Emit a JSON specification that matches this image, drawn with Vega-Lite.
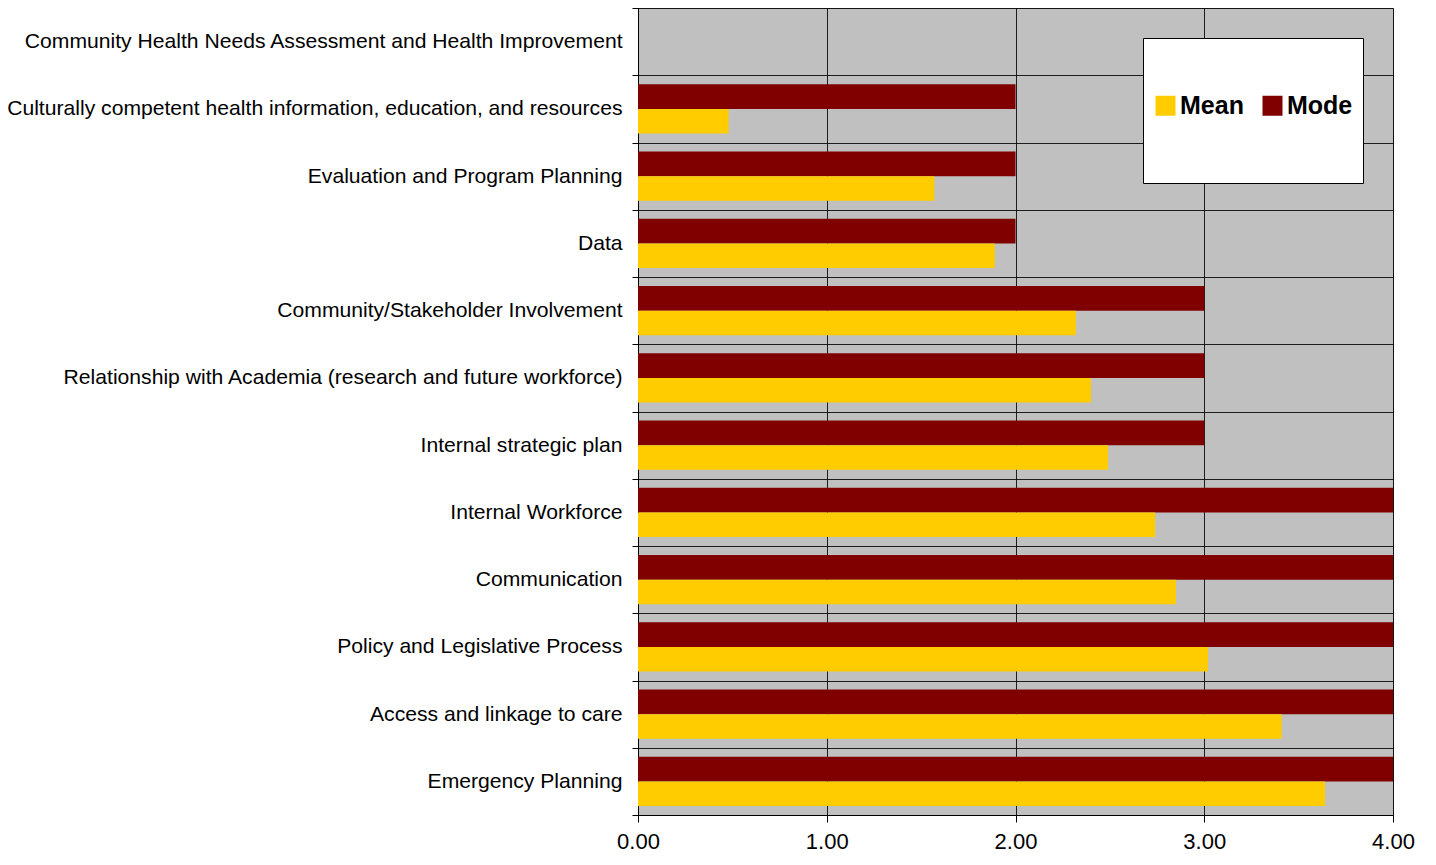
{
  "$schema": "https://vega.github.io/schema/vega-lite/v6.json",
  "autosize": {"type": "none"},
  "padding": {"left": 638, "top": 8, "right": 43, "bottom": 50},
  "width": 755,
  "height": 807,
  "background": "white",
  "config": {
    "font": "Liberation Sans",
    "view": {"fill": "#C0C0C0", "stroke": "#808080", "strokeWidth": 1}
  },
  "data": {
    "values": [
      {"category": "Community Health Needs Assessment and Health Improvement", "measure": "Mode", "value": 0},
      {"category": "Community Health Needs Assessment and Health Improvement", "measure": "Mean", "value": 0},
      {"category": "Culturally competent health information, education, and resources", "measure": "Mode", "value": 2},
      {"category": "Culturally competent health information, education, and resources", "measure": "Mean", "value": 0.48},
      {"category": "Evaluation and Program Planning", "measure": "Mode", "value": 2},
      {"category": "Evaluation and Program Planning", "measure": "Mean", "value": 1.57},
      {"category": "Data", "measure": "Mode", "value": 2},
      {"category": "Data", "measure": "Mean", "value": 1.89},
      {"category": "Community/Stakeholder Involvement", "measure": "Mode", "value": 3},
      {"category": "Community/Stakeholder Involvement", "measure": "Mean", "value": 2.32},
      {"category": "Relationship with Academia (research and future workforce)", "measure": "Mode", "value": 3},
      {"category": "Relationship with Academia (research and future workforce)", "measure": "Mean", "value": 2.4},
      {"category": "Internal strategic plan", "measure": "Mode", "value": 3},
      {"category": "Internal strategic plan", "measure": "Mean", "value": 2.49},
      {"category": "Internal Workforce", "measure": "Mode", "value": 4},
      {"category": "Internal Workforce", "measure": "Mean", "value": 2.74},
      {"category": "Communication", "measure": "Mode", "value": 4},
      {"category": "Communication", "measure": "Mean", "value": 2.85},
      {"category": "Policy and Legislative Process", "measure": "Mode", "value": 4},
      {"category": "Policy and Legislative Process", "measure": "Mean", "value": 3.02},
      {"category": "Access and linkage to care", "measure": "Mode", "value": 4},
      {"category": "Access and linkage to care", "measure": "Mean", "value": 3.41},
      {"category": "Emergency Planning", "measure": "Mode", "value": 4},
      {"category": "Emergency Planning", "measure": "Mean", "value": 3.64}
    ]
  },
  "mark": {"type": "bar", "strokeWidth": 0},
  "encoding": {
    "y": {
      "field": "category",
      "type": "nominal",
      "sort": null,
      "scale": {"paddingInner": 0, "paddingOuter": 0},
      "axis": {
        "title": null,
        "tickBand": "extent",
        "grid": true,
        "gridColor": "#000000",
        "gridWidth": 1,
        "gridOpacity": 0.85,
        "ticks": true,
        "tickColor": "#000000",
        "tickSize": 6,
        "domainColor": "#000000",
        "labelFont": "Liberation Sans",
        "labelFontSize": 21.13,
        "labelColor": "#000000",
        "labelPadding": 10,
        "labelLimit": 700
      }
    },
    "yOffset": {
      "field": "measure",
      "sort": ["Mode", "Mean"],
      "scale": {"paddingInner": 0, "paddingOuter": 0.36}
    },
    "x": {
      "field": "value",
      "type": "quantitative",
      "scale": {"domain": [0, 4], "nice": false},
      "axis": {
        "title": null,
        "values": [0, 1, 2, 3, 4],
        "format": ".2f",
        "grid": true,
        "gridColor": "#000000",
        "gridWidth": 1,
        "gridOpacity": 0.85,
        "tickColor": "#000000",
        "tickSize": 7,
        "domainColor": "#000000",
        "labelFont": "Liberation Sans",
        "labelFontSize": 22,
        "labelColor": "#000000",
        "labelPadding": 9,
        "labelFlush": false
      }
    },
    "color": {
      "field": "measure",
      "type": "nominal",
      "scale": {"domain": ["Mean", "Mode"], "range": ["#FFCC00", "#800000"]},
      "legend": {
        "title": " ",
        "titleFontSize": 24,
        "titlePadding": 21,
        "orient": "none",
        "legendX": 505,
        "legendY": 30,
        "direction": "horizontal",
        "columns": 2,
        "fillColor": "white",
        "strokeColor": "#000000",
        "padding": 10,
        "symbolType": "square",
        "symbolSize": 400,
        "symbolStrokeWidth": 0,
        "symbolOpacity": 1,
        "labelFont": "Liberation Sans",
        "labelFontSize": 25,
        "labelFontWeight": "bold",
        "labelColor": "#000000",
        "labelOffset": 2,
        "columnPadding": 16,
        "labelExpr": "[datum.label, ' ', ' ']"
      }
    }
  }
}
